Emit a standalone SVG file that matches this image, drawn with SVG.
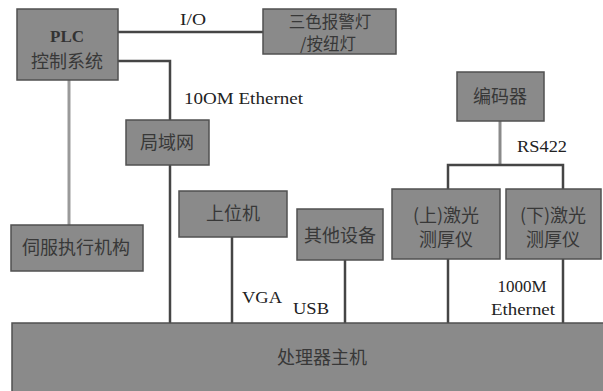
<svg xmlns="http://www.w3.org/2000/svg" width="603" height="391" viewBox="0 0 603 391">
<style>
.box{fill:#8a8a8a;stroke:#505050;stroke-width:1.5}
.cn{font-family:"Noto Sans CJK SC","Noto Sans",sans-serif;font-size:18px;fill:#383838;text-anchor:middle}
.en{font-family:"Liberation Serif",serif;font-size:17px;fill:#222}
.ln{fill:none;stroke:#454545;stroke-width:2.5}
.lg{fill:none;stroke:#9a9a9a;stroke-width:3}
</style>
<rect width="603" height="391" fill="#fff"/>
<g id="connectors">
<path class="ln" d="M118 32H263"/>
<path class="ln" d="M118 61H170V120"/>
<path class="lg" d="M69 80V225"/>
<path class="ln" d="M170 165V323"/>
<path class="ln" d="M232 237V323"/>
<path class="ln" d="M345 260V323"/>
<path class="lg" d="M500 121V165" style="stroke:#8a8a8a"/>
<path class="ln" d="M448 189V165H563V189"/>
<path class="ln" d="M448 259V323"/>
<path class="ln" d="M563 259V323"/>
<text class="en" x="180" y="25" textLength="26" lengthAdjust="spacingAndGlyphs">I/O</text>
<text class="en" x="184" y="104" textLength="119" lengthAdjust="spacingAndGlyphs">10OM Ethernet</text>
<text class="en" x="517" y="152" textLength="50" lengthAdjust="spacingAndGlyphs">RS422</text>
<text class="en" x="242" y="303" textLength="40" lengthAdjust="spacingAndGlyphs">VGA</text>
<text class="en" x="293" y="314" textLength="36" lengthAdjust="spacingAndGlyphs">USB</text>
<text class="en" x="522" y="292" text-anchor="middle">1000M</text>
<text class="en" x="491" y="315" textLength="64" lengthAdjust="spacingAndGlyphs">Ethernet</text>
</g>
<g id="plc">
<rect class="box" x="17" y="9" width="101" height="71"/>
<text class="en" x="67" y="42" text-anchor="middle" style="font-size:17px;fill:#333;font-weight:bold">PLC</text>
<text class="cn" x="67" y="68">控制系统</text>
</g>
<g id="alarm">
<rect class="box" x="263" y="9" width="133" height="45"/>
<text class="cn" x="330" y="28" style="font-size:16.5px">三色报警灯</text>
<text class="cn" x="328" y="50" style="font-size:16.5px">/按纽灯</text>
</g>
<g id="lan">
<rect class="box" x="126" y="120" width="83" height="45"/>
<text class="cn" x="167" y="149">局域网</text>
</g>
<g id="servo">
<rect class="box" x="11" y="225" width="132" height="46"/>
<text class="cn" x="76" y="254">伺服执行机构</text>
</g>
<g id="host">
<rect class="box" x="179" y="191" width="108" height="46"/>
<text class="cn" x="233" y="220">上位机</text>
</g>
<g id="other">
<rect class="box" x="297" y="209" width="86" height="51"/>
<text class="cn" x="340" y="242">其他设备</text>
</g>
<g id="encoder">
<rect class="box" x="457" y="72" width="87" height="49"/>
<text class="cn" x="500" y="103">编码器</text>
</g>
<g id="laser-up">
<rect class="box" x="392" y="189" width="108" height="70"/>
<text class="cn" x="446" y="222">(上)激光</text>
<text class="cn" x="446" y="246">测厚仪</text>
</g>
<g id="laser-down">
<rect class="box" x="506" y="189" width="95" height="70"/>
<text class="cn" x="553" y="222">(下)激光</text>
<text class="cn" x="553" y="246">测厚仪</text>
</g>
<g id="processor">
<rect class="box" x="12" y="323" width="595" height="72"/>
<text class="cn" x="322" y="364">处理器主机</text>
</g>
</svg>
